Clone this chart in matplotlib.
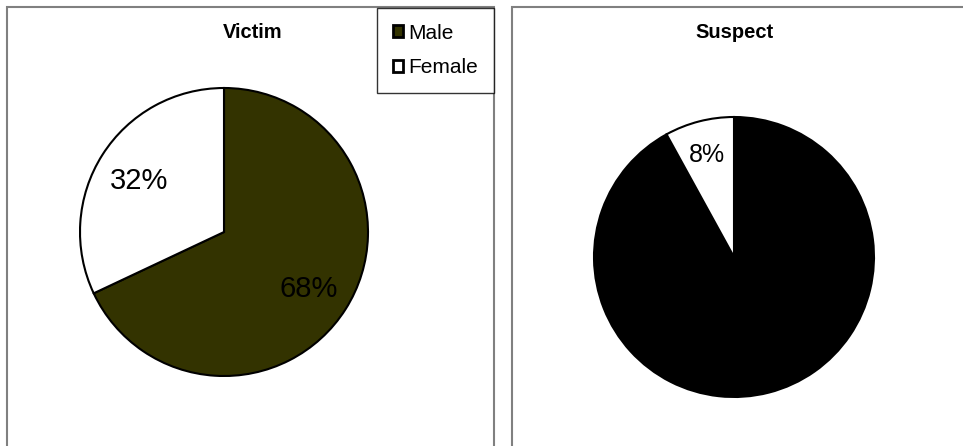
import matplotlib
matplotlib.use("Agg")
import matplotlib.pyplot as plt
from matplotlib.patches import Rectangle, Patch
import numpy as np

plt.rcParams['font.family'] = ['Liberation Sans', 'DejaVu Sans']

# gender split for each group
genders = ['Male', 'Female']
victim_pct = [68, 32]
suspect_pct = [92, 8]

victim_colors = ['#333300', '#ffffff']
suspect_colors = ['#000000', '#ffffff']

W, H = 963, 446
fig = plt.figure(figsize=(W / 100, H / 100), dpi=100)


def px_axes(cx, cy, r):
    # axes square around a pie centre given in pixels (top-left origin)
    return fig.add_axes([(cx - r) / W, 1 - (cy + r) / H, 2 * r / W, 2 * r / H])


def draw_pie(ax, values, colors, labels_for, fontsize, dist):
    wedges, _ = ax.pie(values, colors=colors, startangle=90, counterclock=False,
                       radius=1.0,
                       wedgeprops=dict(edgecolor='black', linewidth=1.5))
    for w, v, show in zip(wedges, values, labels_for):
        if not show:
            continue
        ang = np.deg2rad((w.theta1 + w.theta2) / 2)
        ax.text(dist * np.cos(ang), dist * np.sin(ang), f'{v}%',
                ha='center', va='center_baseline', fontsize=fontsize,
                color='black')
    ax.set_xlim(-1, 1)
    ax.set_ylim(-1, 1)
    ax.set_aspect('equal')
    ax.axis('off')


# panel frames
for x0, x1 in [(7, 494), (512, 980)]:
    fig.patches.append(Rectangle((x0 / W, -0.1), (x1 - x0) / W, 1.1 - 7 / H,
                                 transform=fig.transFigure, fill=False,
                                 edgecolor='#808080', linewidth=1.5))

ax1 = px_axes(224, 232, 144)
draw_pie(ax1, victim_pct, victim_colors, [True, True], 21, 0.70)

ax2 = px_axes(734, 257, 140)
draw_pie(ax2, suspect_pct, suspect_colors, [False, True], 18, 0.77)

fig.text(253 / W, 1 - 32 / H, 'Victim', ha='center', va='center',
         fontsize=14.5, fontweight='bold')
fig.text(734 / W, 1 - 32 / H, 'Suspect', ha='center', va='center',
         fontsize=14.5, fontweight='bold')

handles = [Patch(facecolor=c, edgecolor='black', linewidth=2.0)
           for c in victim_colors]
leg = fig.legend(handles, genders, loc='upper right',
                 bbox_to_anchor=(494 / W, 1 - 8 / H),
                 fontsize=15, frameon=True, fancybox=False,
                 handlelength=0.5, handleheight=0.5, handletextpad=0.25,
                 labelspacing=0.75, borderpad=0.75, borderaxespad=0)
leg.get_frame().set_edgecolor('black')
leg.get_frame().set_linewidth(1.0)

fig.savefig('out.png', dpi=100)
